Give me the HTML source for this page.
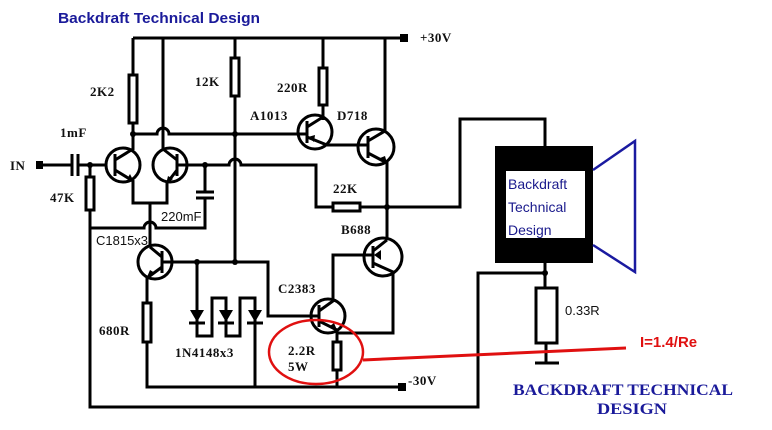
<!DOCTYPE html>
<html><head><meta charset="utf-8"><style>
html,body{margin:0;padding:0;background:#fff;width:772px;height:430px;overflow:hidden}
svg{display:block}
.l{font-family:"Liberation Serif",serif;font-weight:bold;font-size:13px;fill:#111;letter-spacing:0.5px}
.n{font-family:"Liberation Sans",sans-serif;font-size:13px;fill:#111}
</style></head><body>
<svg width="772" height="430" viewBox="0 0 772 430" xmlns="http://www.w3.org/2000/svg">
<g fill="none" stroke="#000" stroke-width="3">
<path d="M133 38 H402"/>
<path d="M133 38 V75 M133 123 V150"/>
<path d="M163 38 V150"/>
<path d="M235 38 V58 M235 96 V262"/>
<path d="M323 38 V68 M323 105 V120"/>
<path d="M385 38 V131"/>
<rect x="129" y="75" width="8" height="48"/>
<rect x="231" y="58" width="8" height="38"/>
<rect x="319" y="68" width="8" height="37"/>
<rect x="86" y="177" width="8" height="33"/>
<rect x="333" y="203" width="27" height="8"/>
<rect x="143" y="303" width="8" height="39"/>
<rect x="333" y="342" width="8" height="28"/>
<rect x="536" y="288" width="21" height="55"/>
<path d="M133 134 H157 A6 6 0 0 1 169 134 H306"/>
<path d="M42 165 H72 M78 165 H106"/>
<path d="M72 154 V176 M78 154 V176"/>
<path d="M90 165 V177 M90 210 V407 H478 V273 H545"/>
<circle cx="123" cy="165" r="17"/>
<path d="M115 154 V176 M115 160 L133 149 M115 170 L133 181 V203 H167 V183 L177 170 M177 160 L163 149"/>
<circle cx="170" cy="165" r="17"/>
<path d="M177 154 V176 M177 165 H229 A6 6 0 0 1 241 165 H316 V207 H333 M360 207 H387"/>
<path d="M205 165 V192 M196 192 H214 M196 198 H214 M205 198 V228 H156 A6 6 0 0 0 144 228 H90"/>
<path d="M150 203 V246"/>
<circle cx="155" cy="262" r="17"/>
<path d="M162 251 V273 M162 262 H268 V316 H318 M162 257 L150 247 M162 267 L147 278 V303 M147 342 V387 H400"/>
<path d="M197 262 V336 H212 V298 H226 V336 H240 V298 H255 V387"/>
<circle cx="315" cy="132" r="17"/>
<path d="M307 121 V143 M307 127 L323 117 M307 137 L327 145 H367"/>
<circle cx="376" cy="147" r="18"/>
<path d="M368 136 V158 M368 141 L385 131 M368 153 L387 163 V240 M387 207 H460 V119 H545 V146"/>
<circle cx="383" cy="257" r="19"/>
<path d="M373 246 V268 M373 255 H333 V302 M373 251 L387 240 M373 263 L393 272 V333 H337"/>
<circle cx="328" cy="316" r="17"/>
<path d="M319 305 V327 M319 311 L333 301 M319 321 L337 330 V342 M337 370 V387"/>
<path d="M545 263 V288 M546 343 V363 M535 363 H559"/>
</g>
<g fill="#000">
<circle cx="133" cy="134" r="3"/><circle cx="235" cy="134" r="3"/><circle cx="205" cy="165" r="3"/>
<circle cx="90" cy="165" r="3"/><circle cx="387" cy="207" r="3"/><circle cx="197" cy="262" r="3"/>
<circle cx="235" cy="262" r="3"/><circle cx="545" cy="273" r="3"/>
<rect x="36" y="161" width="7" height="8"/><rect x="400" y="34" width="8" height="8"/><rect x="398" y="383" width="8" height="8"/>
<path d="M190 310 H204 L197 322 Z M219 310 H233 L226 322 Z M248 310 H262 L255 322 Z"/>
<path d="M127 179 L134 182 L130 174 Z M166 184 L168 176 L173 179 Z M147 277 L150 270 L155 273 Z M387 163 L380 158 L385 156 Z M337 330 L330 326 L334 323 Z M374 255 L381 250 L381 260 Z M308 137 L315 135 L314 142 Z"/>
</g>
<g stroke="#000" stroke-width="3">
<path d="M189 323 H205 M218 323 H234 M247 323 H263"/>
</g>
<rect x="495" y="146" width="98" height="117" fill="#000"/>
<rect x="506" y="171" width="79" height="67" fill="#fff"/>
<g font-family="Liberation Sans,sans-serif" font-size="14" fill="#1a1a8c">
<text x="508" y="189">Backdraft</text><text x="508" y="212">Technical</text><text x="508" y="235">Design</text>
</g>
<path d="M593 170 L635 141 V272 L593 245" fill="none" stroke="#1a1aa0" stroke-width="2.5"/>
<ellipse cx="316" cy="352" rx="47" ry="32" fill="none" stroke="#e01010" stroke-width="2.5"/>
<path d="M363 360 L626 348" stroke="#e01010" stroke-width="3"/>
<text x="640" y="347" font-family="Liberation Sans,sans-serif" font-weight="bold" font-size="15" fill="#e01010">I=1.4/Re</text>
<text x="58" y="23" font-family="Liberation Sans,sans-serif" font-weight="bold" font-size="15" fill="#1a1a9a" textLength="202" lengthAdjust="spacingAndGlyphs">Backdraft Technical Design</text>
<text class="l" x="420" y="42">+30V</text>
<text class="l" x="10" y="170">IN</text>
<text class="l" x="90" y="96">2K2</text>
<text class="l" x="195" y="86">12K</text>
<text class="l" x="277" y="92">220R</text>
<text class="l" x="250" y="120">A1013</text>
<text class="l" x="337" y="120">D718</text>
<text class="l" x="60" y="137">1mF</text>
<text class="l" x="50" y="202">47K</text>
<text class="l" x="333" y="193">22K</text>
<text class="l" x="341" y="234">B688</text>
<text class="l" x="278" y="293">C2383</text>
<text class="l" x="99" y="335">680R</text>
<text class="l" x="175" y="357">1N4148x3</text>
<text class="l" x="288" y="355">2.2R</text>
<text class="l" x="288" y="371">5W</text>
<text class="l" x="408" y="385">-30V</text>
<text class="n" x="161" y="221">220mF</text>
<text class="n" x="96" y="245">C1815x3</text>
<text class="n" x="565" y="315">0.33R</text>
<text x="513" y="395" font-family="Liberation Serif,serif" font-weight="bold" font-size="16" fill="#1a1a9a" textLength="220" lengthAdjust="spacingAndGlyphs">BACKDRAFT TECHNICAL</text>
<text x="597" y="414" font-family="Liberation Serif,serif" font-weight="bold" font-size="16" fill="#1a1a9a" textLength="70" lengthAdjust="spacingAndGlyphs">DESIGN</text>
</svg>
</body></html>
